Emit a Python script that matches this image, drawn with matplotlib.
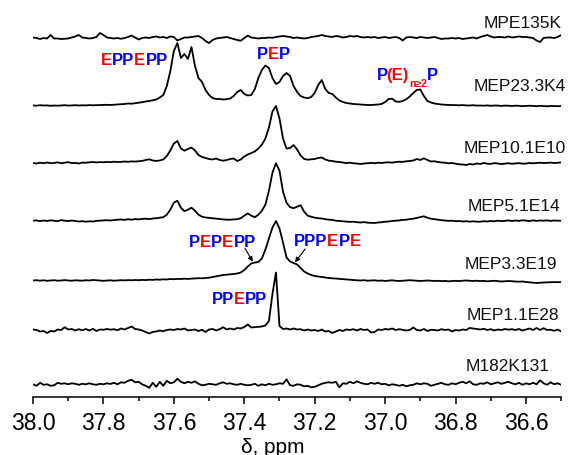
import numpy as np
import matplotlib.pyplot as plt
from matplotlib.ticker import MultipleLocator, FormatStrFormatter

plt.rcParams['font.family'] = ['Liberation Sans', 'DejaVu Sans']

# Desplazamiento químico (ppm), de 38.00 a 36.50 cada 0.01
ppm = np.linspace(38.0, 36.5, 151)

mpe135k = [0.5, 0.0, -1.0, 0.0, -0.5, 3.0, -0.5, -0.5, -1.0, -0.8,
           -0.5, 0.5, 1.5, 3.0, 0.5, 0.0, -0.5, 0.0, 1.0, 5.0,
           3.0, 0.5, 0.0, -0.5, 0.0, -0.8, 0.0, 1.0, 2.5, 0.5,
           -1.5, 0.0, 0.5, 0.0, 1.0, 1.5, 0.5, 1.0, 0.0, 1.5,
           1.0, -2.5, -1.0, 0.5, 0.5, 1.0, 1.5, 2.0, 0.0, -3.0,
           -5.0, -2.0, -0.5, 0.0, 0.5, 1.0, 0.0, -1.0, -2.0, -2.8,
           0.0, 2.4, 0.5, 0.0, -0.5, 0.0, 0.0, 0.5, 0.2, 1.0,
           1.5, 2.0, 1.5, 1.0, 0.0, 0.5, 0.0, -0.5, 0.0, 1.0,
           1.5, 2.0, 3.0, 2.0, 1.5, 1.0, 2.0, 1.5, 0.5, 1.0,
           2.0, 1.5, 2.0, 1.0, 0.5, 1.0, 0.5, 1.0, 0.0, 0.5,
           1.0, 0.0, 0.5, 1.0, 0.0, -2.5, 0.5, 1.0, 0.5, 0.0,
           1.0, 0.5, 0.0, 0.5, 1.0, 0.0, -1.0, -0.5, -0.5, 0.0,
           -0.5, 0.0, -1.0, -0.5, 0.0, 0.5, -0.5, 1.0, 2.0, 3.0,
           1.5, 0.5, 1.0, 1.0, 0.5, 1.5, 0.5, 1.0, 1.5, 1.0,
           1.0, 0.5, 0.0, -2.5, -4.0, 0.0, 0.5, 0.5, 0.0, 1.0,
           3.0]

mep23_3k4 = [0.5, 0.3, 0.8, 0.5, 0.6, 0.2, 0.5, 0.3, 0.6, 0.8,
             0.4, 0.6, 0.8, 0.5, 0.7, 0.6, 0.9, 0.7, 0.8, 1.0,
             1.0, 1.2, 1.0, 1.3, 1.5, 1.8, 2.0, 2.5, 2.3, 2.8,
             3.2, 3.8, 4.5, 5.0, 5.8, 6.5, 8.5, 11, 20, 35,
             55, 63, 48, 52, 47, 59, 40, 28, 24, 16,
             11, 8, 7, 7, 6.5, 6.8, 7.5, 10, 14, 16,
             12, 10.5, 11, 17, 28, 36, 40.5, 38, 28, 22,
             24, 30, 33, 30, 20, 14, 10, 8.5, 7.8, 9,
             13, 21, 26, 17, 13, 12, 8.5, 5.5, 4, 3,
             2.5, 2, 1.8, 1.5, 1.2, 1.0, 1.0, 1.2, 1.5, 2.0,
             4, 7, 7.3, 4.5, 4.2, 5, 6.8, 9.5, 13, 16,
             16.5, 10, 5, 3.5, 2.5, 2, 1.5, 1.2, 1.0, 1.0,
             0.8, 0.7, 0.9, 0.6, 0.5, 0.8, 0.4, 0.5, 0.3, 0.6,
             0.2, 0.5, 0.4, 0.1, 0.4, 0.3, 0.0, 0.3, 0.2, -0.2,
             0.1, 0.3, 0.0, -0.2, 0.2, 0.0, -0.3, 0.1, 0.0, -0.2,
             0.0]

mep10_1e10 = [0.5, 0.0, 0.8, 0.2, 1.0, 0.3, 0.5, 1.2, 0.2, 0.8,
              1.4, 0.4, 0.6, 0.0, 0.9, 0.8, 1.2, 1.5, 1.1, 1.4,
              1.2, 1.6, 1.3, 1.8, 1.5, 1.6, 2.0, 1.7, 2.1, 1.9,
              2.3, 2.6, 3.5, 4.2, 3.0, 2.6, 3.0, 4.0, 7.5, 13,
              20, 22.5, 15, 12.8, 14.5, 16, 13, 8.5, 6.5, 5.5,
              4.5, 4.0, 5.0, 3.5, 2.8, 3.5, 4.5, 5.0, 2.5, 4.0,
              7.0, 9.0, 10.5, 12, 15, 19, 25, 36, 52, 57.5,
              45, 25, 15, 15.5, 18.5, 14, 8, 4.5, 3.8, 4.2,
              4.5, 5.5, 6.0, 4.0, 2.8, 2.5, 1.8, 1.5, 1.0, 0.3,
              0.8, 0.2, 0.0, -0.5, 0.0, 0.3, 0.6, 0.2, 0.8, 0.5,
              1.0, 1.2, 0.8, 1.5, 1.8, 1.6, 2.2, 2.5, 3.0, 4.5,
              3.5, 5.2, 3.5, 2.0, 2.2, 1.5, 1.0, 0.8, 0.2, 0.5,
              -0.2, -0.8, -1.0, -1.5, -0.5, -1.0, 0.0, -0.5, 0.5, -0.2,
              -0.4, 0.4, 0.0, -0.6, -0.2, 0.3, -0.3, 0.0, 0.4, -0.2,
              0.0, 0.5, 0.2, 0.5, 0.8, 0.4, 0.6, 0.9, 0.5, 0.8,
              1.0]

mep5_1e14 = [0.0, 0.3, -0.5, 0.2, -0.3, 0.4, 0.0, -0.5, 0.6, 0.0,
             -0.4, 0.2, -0.3, -0.8, -0.5, -1.0, -0.6, -0.8, -0.2, 0.0,
             0.3, 0.5, 0.2, 0.6, 1.0, 1.2, 0.8, 1.5, 1.0, 1.6,
             1.3, 1.8, 2.0, 1.6, 2.2, 2.5, 3.0, 3.5, 6.0, 11,
             18, 20, 13, 9.5, 11, 13, 10, 6, 4, 3.2,
             2.8, 2.3, 2.0, 1.6, 1.3, 1.0, 1.0, 1.2, 1.5, 2.5,
             5.0, 7.3, 5.0, 3.5, 6.0, 10, 16, 30, 48, 57.5,
             50, 29, 18, 13.5, 12.5, 14, 15.5, 9, 5, 4,
             3, 2.5, 2.2, 1.5, 1.0, 0.8, 0.0, -0.3, -0.5, -1.0,
             -1.2, -1.0, -1.5, -1.8, -1.4, -2.0, -2.2, -2.3, -1.8, -1.5,
             -1.0, -0.8, -0.3, 0.0, 0.3, 0.8, 1.0, 1.6, 2.0, 2.8,
             3.5, 4.4, 3.0, 2.0, 1.5, 1.0, 0.5, 0.2, -0.2, 0.0,
             -0.5, -0.3, -0.8, -0.5, -1.0, -0.6, -1.0, -1.0, -0.5, -0.8,
             -0.3, -0.6, 0.0, -0.4, -0.2, 0.3, -0.3, 0.2, -0.2, 0.4,
             0.0, -0.3, 0.3, -0.2, 0.2, 0.0, 0.3, -0.2, 0.2, 0.0,
             0.0]

mep3_3e19 = [0.0, 0.3, -0.2, 0.2, -0.3, 0.0, 0.3, -0.2, 0.0, 0.4,
             0.0, -0.3, 0.2, 0.0, -0.2, 0.3, 0.0, 0.5, 0.2, 0.0,
             -0.3, 0.0, 0.2, -0.2, 0.0, 0.3, 0.1, 0.4, 0.2, 0.5,
             0.3, 0.6, 0.4, 0.8, 0.6, 1.0, 0.8, 1.2, 1.0, 1.5,
             1.3, 1.6, 1.5, 1.8, 1.6, 1.8, 2.0, 2.3, 2.2, 2.5,
             2.8, 3.5, 4.3, 5.0, 5.5, 5.8, 6.0, 6.5, 7.0, 8.0,
             10.5, 14, 17, 18, 18.5, 22, 31, 42, 53, 59.5,
             52, 38, 23, 19, 17.5, 16, 12.5, 9, 7, 5.5,
             4.5, 4, 3.5, 3, 2.5, 2.2, 2.0, 1.5, 1.2, 1.0,
             0.8, 0.5, 0.2, 0.0, 0.3, -0.2, 0.0, 0.2, -0.3, 0.0,
             -0.5, -0.2, 0.2, -0.3, -0.5, -0.2, 0.0, 0.3, 0.0, -0.3,
             -0.5, -0.3, 0.0, -0.2, -0.5, -0.3, -0.6, -0.4, -0.8, -0.5,
             -0.3, -0.6, -0.2, 0.0, -0.3, -0.5, -0.2, -0.6, -0.4, -0.8,
             -0.5, -0.3, -0.6, -1.0, -0.8, -0.5, -0.8, -1.0, -1.2, -1.0,
             -1.5, -1.8, -2.2, -2.5, -2.2, -2.0, -1.8, -1.7, -1.6, -1.7,
             -1.6]

mep1_1e28 = [0.5, 0.0, -1.5, -1.0, -3.0, -1.0, -1.5, 0.5, 0.0, 2.8,
             0.5, 1.0, -0.5, 0.8, -0.3, 1.0, -0.5, 1.2, -1.0, 0.5,
             0.2, 1.0, 0.3, 0.8, -0.2, 1.5, 0.5, 2.0, 3.5, 1.0,
             0.5, -0.5, -2.0, -3.5, -2.0, -1.5, -0.5, -1.2, 0.0, 0.5,
             0.0, 1.0, 0.5, 1.5, -0.5, 0.0, 0.5, -1.0, 0.2, -2.0,
             0.5, 1.0, -0.5, 0.8, 2.8, 0.5, 1.5, 0.5, 2.0, 1.5,
             3.0, 5.5, 2.5, 2.8, 3.0, 3.5, 4.5, 9, 36, 57.5,
             4, 1.0, 1.5, 0.5, 1.5, 0.5, 0.8, -0.5, 0.5, -0.5,
             0.0, -1.0, 0.5, -1.5, -1.0, -3.0, -1.5, 0.0, -1.0, 0.5,
             0.0, 0.8, -0.5, 1.0, 0.0, 0.5, -2.5, -2.0, 0.5, 0.0,
             1.0, 0.5, 1.5, 0.0, 0.8, 0.2, -0.5, 0.0, 2.5, 0.0,
             -0.5, 1.0, -1.0, 0.2, 0.0, -0.5, 0.8, 0.0, 0.5, -1.5,
             0.0, -0.5, 0.5, 0.0, 2.0, 1.5, 1.0, 0.5, 1.2, 0.0,
             0.8, -0.5, 0.5, 0.0, 1.0, 0.3, 0.8, 0.0, 1.0, -0.5,
             0.5, 1.5, 0.0, 2.0, 0.0, 1.8, 0.0, 0.3, -0.8, 0.5,
             -1.5]

m182k131 = [0.0, -1.5, 1.5, -0.5, 0.0, -1.5, -1.0, 1.5, 0.5, 1.0,
            0.0, 1.0, 0.5, -0.5, 0.5, 0.0, 1.0, 0.0, -0.5, 0.5,
            0.0, 1.0, 0.3, 1.5, 0.0, 2.0, 1.5, 3.5, 4.5, 2.0,
            2.5, 0.0, -1.5, -3.5, 1.5, -2.5, 2.5, -1.5, 3.5, 1.0,
            2.0, 5.5, 2.5, 1.0, 2.5, 1.5, 3.0, 0.5, -1.0, -0.5,
            0.5, 0.0, -0.5, 1.0, 2.0, 0.5, 1.0, 0.0, -0.5, 0.5,
            -0.5, -1.0, -0.5, 0.5, -1.5, 0.0, -1.0, 0.5, -0.5, 0.0,
            1.0, 0.5, 5.0, -1.0, -1.5, 0.0, -0.5, -2.0, -1.5, -3.0,
            -2.5, -1.0, 0.5, 1.5, 2.0, 1.5, 2.5, -3.0, 1.0, 0.5,
            2.5, 1.0, 3.0, 1.5, 0.5, 0.0, 1.5, 0.5, 1.5, 0.0,
            0.5, -1.0, 0.0, -0.5, -1.5, -0.5, -2.0, -1.0, -0.5, 1.0,
            0.0, 1.0, 0.5, -1.5, -0.5, 0.5, 1.5, 0.0, -0.5, 1.0,
            0.0, 1.5, 2.5, 1.0, 3.0, 0.0, -0.5, 1.0, 0.5, 2.0,
            0.0, 1.0, 2.0, 0.5, 1.5, 2.5, 1.0, 0.0, 1.5, -0.5,
            1.0, 0.0, 1.5, 0.0, 4.0, 1.0, -0.5, 2.0, 0.0, 1.0,
            -0.5]

muestras = ['MPE135K', 'MEP23.3K4', 'MEP10.1E10', 'MEP5.1E14',
            'MEP3.3E19', 'MEP1.1E28', 'M182K131']
espectros = [mpe135k, mep23_3k4, mep10_1e10, mep5_1e14,
             mep3_3e19, mep1_1e28, m182k131]

# Línea base de cada traza y posición del nombre (borde derecho, línea base del texto)
bases = [359, 291, 233.5, 176.3, 116.5, 67, 12.7]
pos_nombres = [(36.498, 370.3), (36.487, 306.5), (36.486, 244.8), (36.503, 186.5),
               (36.512, 128.7), (36.506, 78.3), (36.534, 26.5)]

AZUL = 'blue'
ROJO = 'red'

fig = plt.figure(figsize=(5.73, 4.56), dpi=100)
ax = fig.add_axes([0.0576, 0.1272, 0.9218, 0.8728])

for esp, base in zip(espectros, bases):
    ax.plot(ppm, base + np.array(esp), color='black', lw=1.3)

for nombre, (x, y) in zip(muestras, pos_nombres):
    ax.text(x, y, nombre, fontsize=12.5, ha='right', va='baseline', color='#111111')


# Texto de secuencia con letras de distintos colores, encadenadas
def secuencia(x, y, partes):
    base = ax.text(x, y, partes[0][0], color=partes[0][1], fontsize=12,
                   fontweight='bold', va='baseline')
    previo = base
    for parte in partes[1:]:
        texto, color = parte[0], parte[1]
        tam, dx, dy = parte[2:] if len(parte) > 2 else (12, 0, 0)
        previo = ax.annotate(texto, xy=(1, 0), xycoords=(previo, base),
                             xytext=(dx, dy), textcoords='offset points',
                             color=color, fontsize=tam, fontweight='bold',
                             va='bottom', ha='left')


secuencia(37.807, 332.5, [('E', ROJO), ('PP', AZUL), ('E', ROJO), ('PP', AZUL)])
secuencia(37.364, 338.7, [('P', AZUL), ('E', ROJO), ('P', AZUL)])
secuencia(37.024, 318.0, [('P', AZUL), ('(E)', ROJO, 12, -1, 0),
                          ('n≥2', ROJO, 7.5, 0, -4), ('P', AZUL)])
secuencia(37.557, 150.7, [('P', AZUL), ('E', ROJO), ('P', AZUL), ('E', ROJO), ('PP', AZUL)])
secuencia(37.259, 152.0, [('PPP', AZUL), ('E', ROJO), ('P', AZUL), ('E', ROJO)])
secuencia(37.492, 94.0, [('PP', AZUL), ('E', ROJO), ('PP', AZUL)])

flecha = dict(arrowstyle='-|>', color='black', lw=0.8, mutation_scale=7, shrinkA=0, shrinkB=0)
ax.annotate('', xy=(37.376, 135.3), xytext=(37.398, 148.7), arrowprops=flecha)
ax.annotate('', xy=(37.256, 134.7), xytext=(37.227, 148.0), arrowprops=flecha)

ax.set_xlim(38.0, 36.5)
ax.set_ylim(0, 398)
ax.set_yticks([])
for lado in ['left', 'right', 'top']:
    ax.spines[lado].set_visible(False)
ax.spines['bottom'].set_linewidth(1.1)
ax.xaxis.set_major_locator(MultipleLocator(0.2))
ax.xaxis.set_minor_locator(MultipleLocator(0.1))
ax.xaxis.set_major_formatter(FormatStrFormatter('%.1f'))
ax.tick_params(axis='x', which='major', length=5, width=1.1, labelsize=16.5, pad=5)
ax.tick_params(axis='x', which='minor', length=3, width=1.1)
ax.patch.set_visible(False)

fig.text(273 / 573, 1 - 453 / 456, 'δ, ppm', fontsize=15, ha='center', va='baseline')

fig.savefig('out.png', dpi=100)
